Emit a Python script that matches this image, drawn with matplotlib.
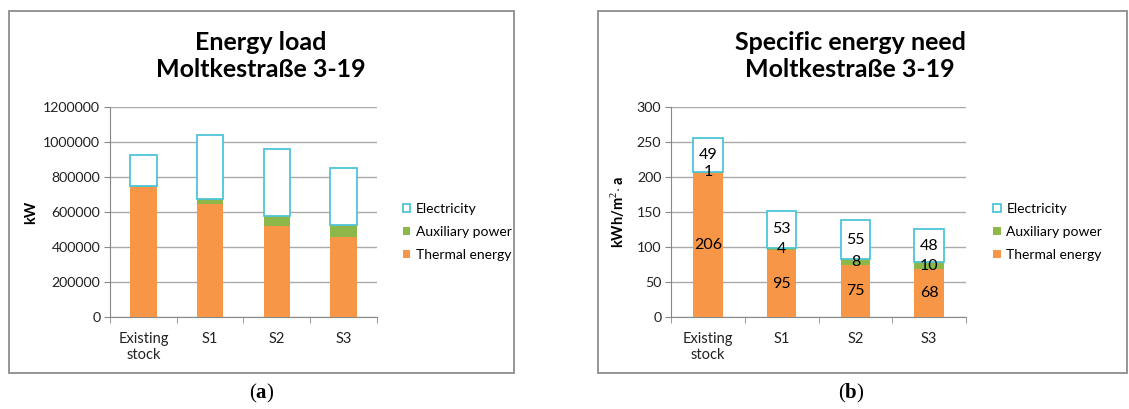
import matplotlib
matplotlib.use('Agg')
import matplotlib.pyplot as plt
from matplotlib.patches import Rectangle
from matplotlib.ticker import FuncFormatter
import numpy as np

plt.rcParams['font.family'] = ['Lato', 'DejaVu Sans']
plt.rcParams['mathtext.fontset'] = 'custom'
plt.rcParams['mathtext.rm'] = 'Liberation Serif'
plt.rcParams['mathtext.bf'] = 'Liberation Serif:bold'

categories = ['Existing\nstock', 'S1', 'S2', 'S3']

# (a) energy load, kW
load_thermal = [745000, 645000, 522000, 459000]
load_aux = [3000, 31000, 53000, 66000]
load_elec = [180000, 362000, 385000, 328000]

# (b) specific energy need, kWh/m2a
need_thermal = [206, 95, 75, 68]
need_aux = [1, 4, 8, 10]
need_elec = [49, 53, 55, 48]

ORANGE = '#F79646'
GREEN = '#8DB849'
CYAN = '#4FC5DA'
GRID = '#AAAAAA'

W, H = 1129, 409
fig = plt.figure(figsize=(W / 100, H / 100), dpi=100)


def draw_panel(ax, thermal, aux, elec, ylim, step, ylabel, label_x, labels):
    x = np.arange(len(categories))
    w = 0.4
    thermal = np.array(thermal)
    aux = np.array(aux)
    elec = np.array(elec)
    b1 = ax.bar(x, thermal, w, color=ORANGE, label='Thermal energy', zorder=3)
    b2 = ax.bar(x, aux, w, bottom=thermal, color=GREEN, label='Auxiliary power', zorder=3)
    b3 = ax.bar(x, elec, w, bottom=thermal + aux, facecolor='white', edgecolor=CYAN,
                linewidth=1.3, label='Electricity', zorder=3)
    ax.set_xlim(-0.5, len(categories) - 0.5)
    ax.set_ylim(0, ylim)
    ax.set_yticks(np.arange(0, ylim + 1, step))
    ax.yaxis.set_major_formatter(FuncFormatter(lambda v, p: '%d' % v))
    ax.set_xticks(x)
    ax.set_xticklabels(categories, fontsize=10.5, color='#222222', linespacing=1.2)
    ax.set_xticks(np.arange(-0.5, len(categories)), minor=True)
    ax.tick_params(axis='x', which='major', length=0, pad=11)
    ax.tick_params(axis='x', which='minor', length=4, color='#888888')
    ax.tick_params(axis='y', length=4, color='#888888', labelsize=10.2, labelcolor='#222222', pad=3)
    ax.grid(axis='y', color=GRID, linewidth=1, zorder=0)
    for s in ['top', 'right']:
        ax.spines[s].set_visible(False)
    for s in ['left', 'bottom']:
        ax.spines[s].set_color('#888888')
    ax.set_ylabel(ylabel, fontsize=10.5, fontweight='bold')
    ax.yaxis.set_label_coords(label_x, 0.5)
    handles = [b3, b2, b1]
    ax.legend(handles=handles, loc='center left', bbox_to_anchor=(1.05, 0.405), frameon=False,
              fontsize=10, handlelength=0.55, handleheight=0.55, handletextpad=0.4, labelspacing=0.8)
    if labels:
        for i in x:
            ax.text(i, thermal[i] / 2, str(thermal[i]), ha='center', va='center', fontsize=11.5, zorder=5)
            ax.text(i, thermal[i] + aux[i] / 2, str(aux[i]), ha='center', va='center', fontsize=11.5, zorder=5)
            ax.text(i, thermal[i] + aux[i] + elec[i] / 2, str(elec[i]), ha='center', va='center',
                    fontsize=11.5, zorder=5)


ax1 = fig.add_axes([110 / W, 1 - 317 / H, 267 / W, 210 / H])
draw_panel(ax1, load_thermal, load_aux, load_elec, 1200000, 200000, 'kW', -0.27, False)
ax2 = fig.add_axes([671 / W, 1 - 317 / H, 295 / W, 210 / H])
draw_panel(ax2, need_thermal, need_aux, need_elec, 300, 50, 'kWh/m$^{2}$$\\cdot$ a', -0.15, True)

# panel frames
fig.patches.append(Rectangle((9 / W, 1 - 373 / H), 505 / W, 362 / H, transform=fig.transFigure,
                             fill=False, edgecolor='#8C8C8C', linewidth=1.3))
fig.patches.append(Rectangle((598 / W, 1 - 373 / H), 529 / W, 362 / H, transform=fig.transFigure,
                             fill=False, edgecolor='#8C8C8C', linewidth=1.3))

fig.text(261 / W, 1 - 56 / H, 'Energy load\nMoltkestraße 3-19', ha='center', va='center',
         fontsize=18, fontweight='bold', linespacing=1.2)
fig.text(850 / W, 1 - 56 / H, 'Specific energy need\nMoltkestraße 3-19', ha='center', va='center',
         fontsize=18, fontweight='bold', linespacing=1.2)

fig.text(262 / W, 1 - 393 / H, r'($\mathbf{a}$)', ha='center', va='center', fontsize=15,
         family='Liberation Serif')
fig.text(851 / W, 1 - 393 / H, r'($\mathbf{b}$)', ha='center', va='center', fontsize=15,
         family='Liberation Serif')

fig.savefig('out.png', dpi=100)
